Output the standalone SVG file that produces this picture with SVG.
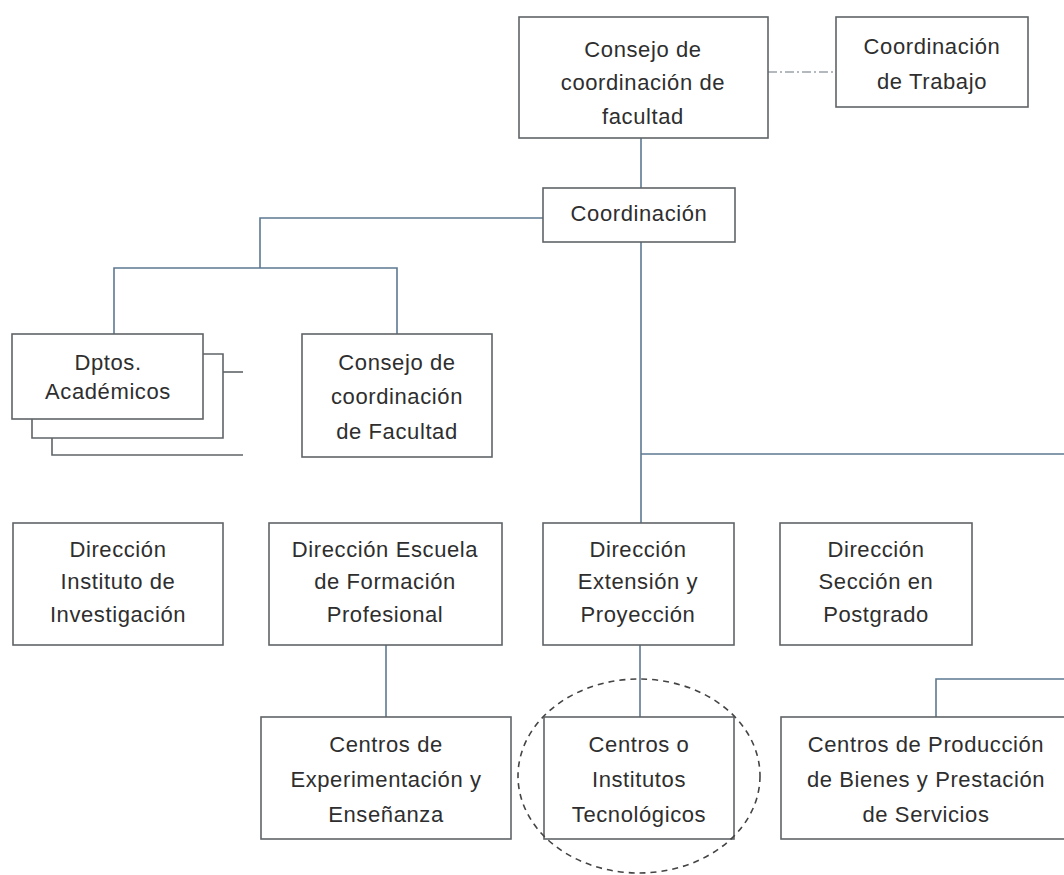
<svg xmlns="http://www.w3.org/2000/svg" width="1064" height="875" viewBox="0 0 1064 875">
<style>
.box{fill:#ffffff;stroke:#5f6468;stroke-width:1.6}
.stack{fill:none;stroke:#5f6468;stroke-width:1.6}
.con{fill:none;stroke:#5d7891;stroke-width:1.6}
.dash{fill:none;stroke:#9aa3aa;stroke-width:1.4;stroke-dasharray:9 3 2 3}
.circ{fill:none;stroke:#444;stroke-width:1.6;stroke-dasharray:6 5}
text{font-family:"Liberation Sans",Arial,sans-serif;font-size:22px;fill:#2e2e2e;text-anchor:middle;letter-spacing:0.6px}
</style>
<rect width="1064" height="875" fill="#ffffff"/>
<g id="connectors">
<path class="con" d="M641 138V188"/>
<path class="con" d="M543 218H260V268"/>
<path class="con" d="M114 334V268H397V334"/>
<path class="con" d="M641 242V523"/>
<path class="con" d="M641 454H1064"/>
<path class="con" d="M386 645V717"/>
<path class="con" d="M640 645V717"/>
<path class="con" d="M936 717V679H1064"/>
<path class="dash" d="M768 72H836"/>
</g>
<g id="n-consejo-top">
<rect class="box" x="519" y="17" width="249" height="121"/>
<text x="643" y="57">Consejo de</text>
<text x="643" y="90">coordinación de</text>
<text x="643" y="124">facultad</text>
</g>
<g id="n-coord-trabajo">
<rect class="box" x="836" y="17" width="192" height="90"/>
<text x="932" y="54">Coordinación</text>
<text x="932" y="89">de Trabajo</text>
</g>
<g id="n-coordinacion">
<rect class="box" x="543" y="188" width="192" height="54"/>
<text x="639" y="221">Coordinación</text>
</g>
<g id="n-dptos">
<path class="stack" d="M52 438V455H243"/>
<path class="stack" d="M223 372H243"/>
<path class="stack" d="M203 354H223V438H32V419"/>
<rect class="box" x="12" y="334" width="191" height="85"/>
<text x="108" y="370">Dptos.</text>
<text x="108" y="399">Académicos</text>
</g>
<g id="n-consejo-fac">
<rect class="box" x="302" y="334" width="190" height="123"/>
<text x="397" y="370">Consejo de</text>
<text x="397" y="404">coordinación</text>
<text x="397" y="439">de Facultad</text>
</g>
<g id="n-dir-instituto">
<rect class="box" x="13" y="523" width="210" height="122"/>
<text x="118" y="557">Dirección</text>
<text x="118" y="589">Instituto de</text>
<text x="118" y="622">Investigación</text>
</g>
<g id="n-dir-escuela">
<rect class="box" x="269" y="523" width="233" height="122"/>
<text x="385" y="557">Dirección Escuela</text>
<text x="385" y="589">de Formación</text>
<text x="385" y="622">Profesional</text>
</g>
<g id="n-dir-extension">
<rect class="box" x="543" y="523" width="191" height="122"/>
<text x="638" y="557">Dirección</text>
<text x="638" y="589">Extensión y</text>
<text x="638" y="622">Proyección</text>
</g>
<g id="n-dir-seccion">
<rect class="box" x="780" y="523" width="192" height="122"/>
<text x="876" y="557">Dirección</text>
<text x="876" y="589">Sección en</text>
<text x="876" y="622">Postgrado</text>
</g>
<g id="n-centros-exp">
<rect class="box" x="261" y="717" width="250" height="122"/>
<text x="386" y="752">Centros de</text>
<text x="386" y="787">Experimentación y</text>
<text x="386" y="822">Enseñanza</text>
</g>
<g id="n-centros-inst">
<rect class="box" x="544" y="717" width="190" height="122"/>
<text x="639" y="752">Centros o</text>
<text x="639" y="787">Institutos</text>
<text x="639" y="822">Tecnológicos</text>
</g>
<g id="n-centros-prod">
<rect class="box" x="781" y="717" width="292" height="122"/>
<text x="926" y="752">Centros de Producción</text>
<text x="926" y="787">de Bienes y Prestación</text>
<text x="926" y="822">de Servicios</text>
</g>
<ellipse class="circ" cx="639" cy="776" rx="121" ry="97"/>
</svg>
